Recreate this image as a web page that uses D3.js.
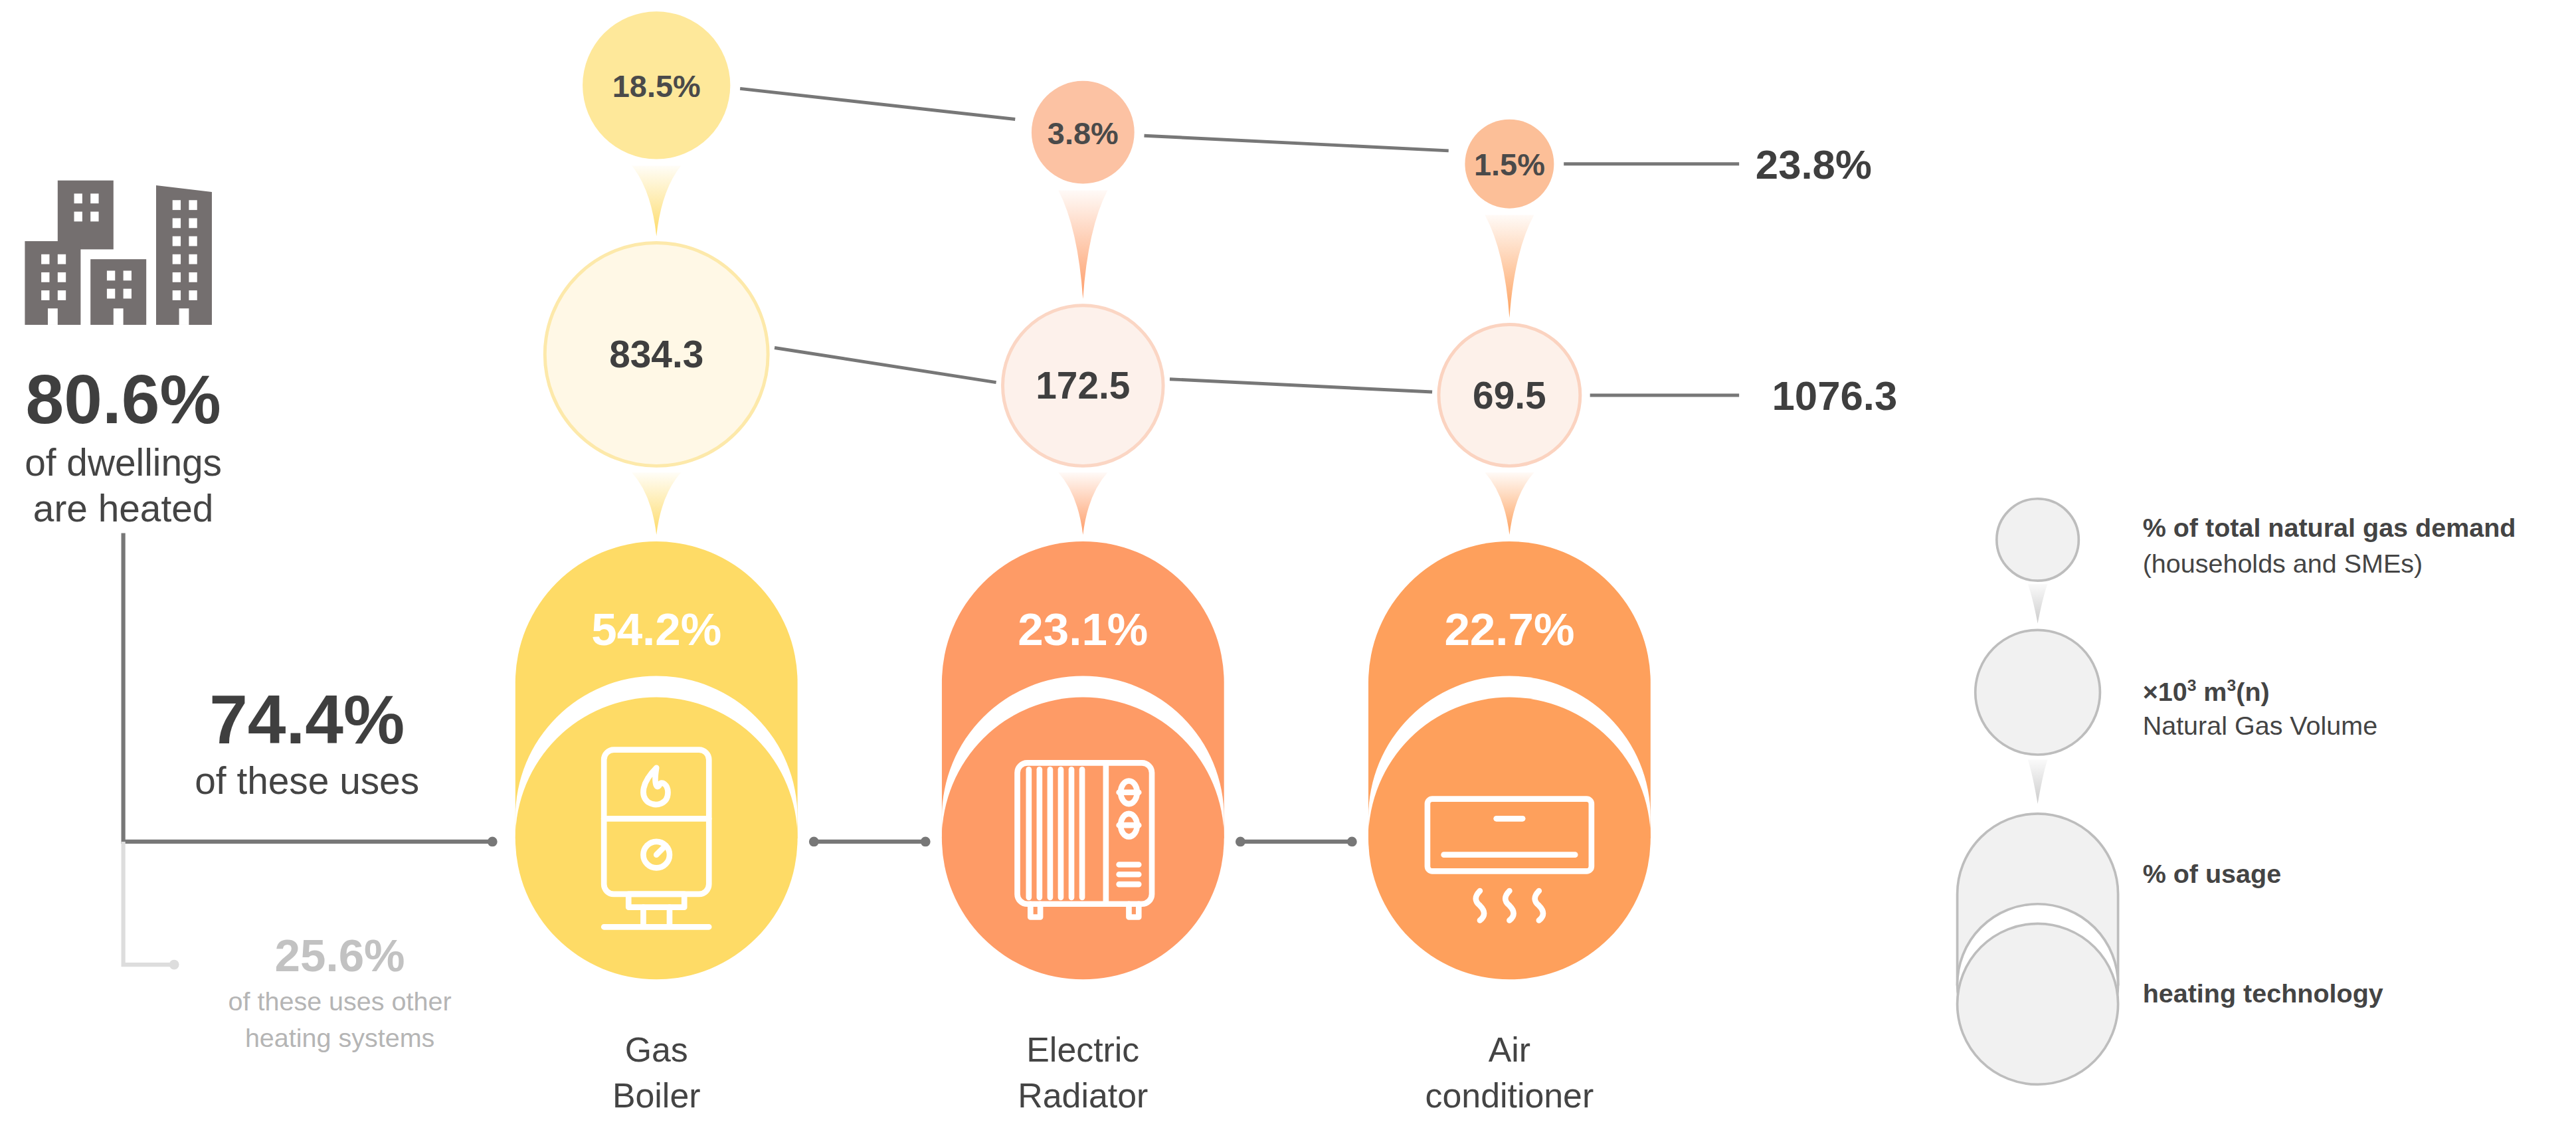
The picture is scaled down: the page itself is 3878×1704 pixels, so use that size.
<!DOCTYPE html>
<html>
<head>
<meta charset="utf-8">
<script src="https://cdn.jsdelivr.net/npm/d3@7"></script>
<style>
  body { margin: 0; background: #fff; }
  text { font-family: "Liberation Sans", Arial, sans-serif; }
</style>
</head>
<body>
<div id="chart"></div>
<script>
// chart values
const techNames = ["Gas Boiler", "Electric Radiator", "Air conditioner"];
const techLines = [["Gas", "Boiler"], ["Electric", "Radiator"], ["Air", "conditioner"]];
const usagePct = [54.2, 23.1, 22.7];
const gasVolume = [834.3, 172.5, 69.5];
const demandPct = [18.5, 3.8, 1.5];
const totalVolume = "1076.3";
const totalDemand = "23.8%";
const heatedPct = "80.6%";
const usesPct = "74.4%";
const otherPct = "25.6%";

const techColors = ["#fedb66", "#fe9b66", "#fea05c"];
const topColors = ["#fee89a", "#fcc2a3", "#fcbf98"];
const midFill = ["#fff8e6", "#fdf1eb", "#fdf1ea"];
const midStroke = ["#fde9aa", "#fbd6c4", "#fbd3c0"];

const viewW = 1570, viewH = 690;
const svg = d3.select("#chart").append("svg")
    .attr("viewBox", `0 0 ${viewW} ${viewH}`)
    .attr("width", 3878).attr("height", 1704);

const x = d3.scalePoint().domain(techNames).range([400, 920]);
const rTop = d3.scaleSqrt().domain([0, d3.max(demandPct)]).range([20, 45]);
const rMid = d3.scaleSqrt().domain([0, d3.max(gasVolume)]).range([33, 68]);
const topBottom = d3.scaleLinear().domain([0, 2]).range([97, 127]);
const midBottom = 284;
const techCy = 511, techR = 86, archTop = 330;

const data = techNames.map((n, i) => ({
    name: n, i, cx: x(n),
    rt: rTop(demandPct[i]), rm: rMid(gasVolume[i])
}));
data.forEach(d => {
    d.ty = topBottom(d.i) - d.rt;
    d.my = midBottom - d.rm;
});

// gradients for the tapered connectors
const defs = svg.append("defs");
data.forEach(d => {
    const g = defs.append("linearGradient").attr("id", "tg" + d.i)
        .attr("x1", 0).attr("y1", 0).attr("x2", 0).attr("y2", 1);
    g.append("stop").attr("offset", 0).attr("stop-color", techColors[d.i]).attr("stop-opacity", 0.05);
    g.append("stop").attr("offset", 1).attr("stop-color", techColors[d.i]).attr("stop-opacity", 1);
});
const lg = defs.append("linearGradient").attr("id", "tgLeg").attr("x1", 0).attr("y1", 0).attr("x2", 0).attr("y2", 1);
lg.append("stop").attr("offset", 0).attr("stop-color", "#ccc").attr("stop-opacity", 0.1);
lg.append("stop").attr("offset", 1).attr("stop-color", "#ccc").attr("stop-opacity", 1);

function taper(cx, y0, y1, w) {
    const h = y1 - y0;
    return `M${cx - w},${y0} Q${cx - 3},${y0 + h * 0.35} ${cx},${y1} Q${cx + 3},${y0 + h * 0.35} ${cx + w},${y0} Z`;
}

// connector lines between circles
const lineCol = "#777";
const topLine = d3.line();
for (let i = 0; i < data.length; i++) {
    const a = data[i], b = data[i + 1];
    if (b) {
        svg.append("path").attr("d", topLine([[a.cx + a.rt + 6, a.ty + 2], [b.cx - b.rt - 10, b.ty - 8]]))
            .attr("stroke", lineCol).attr("stroke-width", 2);
        svg.append("path").attr("d", topLine([[a.cx + a.rm + 4, a.my - 4], [b.cx - b.rm - 4, b.my - 2]]))
            .attr("stroke", lineCol).attr("stroke-width", 2);
    } else {
        svg.append("path").attr("d", topLine([[a.cx + a.rt + 6, a.ty], [1060, a.ty]]))
            .attr("stroke", lineCol).attr("stroke-width", 2);
        svg.append("path").attr("d", topLine([[a.cx + a.rm + 6, a.my], [1060, a.my]]))
            .attr("stroke", lineCol).attr("stroke-width", 2);
        svg.append("text").attr("x", 1070).attr("y", a.ty + 9).attr("font-size", 25)
            .attr("font-weight", "bold").attr("fill", "#3f3f3f").text(totalDemand);
        svg.append("text").attr("x", 1080).attr("y", a.my + 9).attr("font-size", 25)
            .attr("font-weight", "bold").attr("fill", "#3f3f3f").text(totalVolume);
    }
}

const col = svg.selectAll("g.col").data(data).join("g").attr("class", "col");

// tapers
col.append("path").attr("d", d => taper(d.cx, d.ty + d.rt + 4, d.my - d.rm - 4, 15))
    .attr("fill", d => `url(#tg${d.i})`);
col.append("path").attr("d", d => taper(d.cx, midBottom + 4, archTop - 4, 15))
    .attr("fill", d => `url(#tg${d.i})`);

// top circles
col.append("circle").attr("cx", d => d.cx).attr("cy", d => d.ty).attr("r", d => d.rt)
    .attr("fill", d => topColors[d.i]);
col.append("text").attr("x", d => d.cx).attr("y", d => d.ty + 7).attr("text-anchor", "middle")
    .attr("font-size", 19).attr("font-weight", "bold").attr("fill", "#4a4a4a")
    .text(d => demandPct[d.i].toFixed(1) + "%");

// middle circles
col.append("circle").attr("cx", d => d.cx).attr("cy", d => d.my).attr("r", d => d.rm)
    .attr("fill", d => midFill[d.i]).attr("stroke", d => midStroke[d.i]).attr("stroke-width", 2);
col.append("text").attr("x", d => d.cx).attr("y", d => d.my + 8).attr("text-anchor", "middle")
    .attr("font-size", 23).attr("font-weight", "bold").attr("fill", "#3f3f3f")
    .text(d => gasVolume[d.i].toFixed(1));

// technology shape: arch + white gap + circle
function arch(cx, top, r, bottom) {
    return `M${cx - r},${bottom} L${cx - r},${top + r} A${r},${r} 0 0 1 ${cx + r},${top + r} L${cx + r},${bottom} Z`;
}
col.append("path").attr("d", d => arch(d.cx, archTop, techR, techCy))
    .attr("fill", d => techColors[d.i]);
col.append("circle").attr("cx", d => d.cx).attr("cy", techCy - 13).attr("r", techR).attr("fill", "#fff");
col.append("circle").attr("cx", d => d.cx).attr("cy", techCy).attr("r", techR)
    .attr("fill", d => techColors[d.i]);
col.append("text").attr("x", d => d.cx).attr("y", 393).attr("text-anchor", "middle")
    .attr("font-size", 28).attr("font-weight", "bold").attr("fill", "#fff")
    .text(d => usagePct[d.i].toFixed(1) + "%");

// names
col.each(function (d) {
    techLines[d.i].forEach((t, k) => {
        d3.select(this).append("text").attr("x", d.cx).attr("y", 647 + k * 28)
            .attr("text-anchor", "middle").attr("font-size", 21).attr("fill", "#444").text(t);
    });
});

// connectors between technologies
for (let i = 0; i < data.length - 1; i++) {
    const x0 = data[i].cx + techR + 10, x1 = data[i + 1].cx - techR - 10;
    svg.append("line").attr("x1", x0).attr("x2", x1).attr("y1", techCy + 2).attr("y2", techCy + 2)
        .attr("stroke", lineCol).attr("stroke-width", 2.5);
    [x0, x1].forEach(v => svg.append("circle").attr("cx", v).attr("cy", techCy + 2).attr("r", 3).attr("fill", lineCol));
}

// icons (white line art)
const ic = { stroke: "#fff", "stroke-width": 3.5, fill: "none", "stroke-linecap": "round", "stroke-linejoin": "round" };
function st(sel) { Object.entries(ic).forEach(([k, v]) => sel.attr(k, v)); return sel; }

// gas boiler
const gb = svg.append("g").attr("transform", `translate(${data[0].cx},${techCy})`);
st(gb.append("rect").attr("x", -32).attr("y", -54).attr("width", 64).attr("height", 88).attr("rx", 6));
st(gb.append("line").attr("x1", -32).attr("x2", 32).attr("y1", -12).attr("y2", -12));
st(gb.append("path").attr("d", "M0,-43 C-9,-34 -10,-26 -5,-22 C0,-19 7,-21 7,-28 C7,-33 3,-35 2,-33 C1,-30 -2,-31 0,-43 Z"));
st(gb.append("circle").attr("cx", 0).attr("cy", 10).attr("r", 8));
st(gb.append("line").attr("x1", 0).attr("y1", 10).attr("x2", 4).attr("y2", 6));
st(gb.append("rect").attr("x", -17).attr("y", 34).attr("width", 34).attr("height", 8));
st(gb.append("path").attr("d", "M-8,42 L-8,54 M8,42 L8,54 M-32,54 L32,54"));

// radiator
const rd = svg.append("g").attr("transform", `translate(${data[1].cx},${techCy})`);
st(rd.append("rect").attr("x", -40).attr("y", -46).attr("width", 82).attr("height", 86).attr("rx", 6));
d3.range(6).forEach(k => st(rd.append("line").attr("x1", -33 + k * 6.5).attr("x2", -33 + k * 6.5).attr("y1", -42).attr("y2", 36)));
st(rd.append("line").attr("x1", 14).attr("x2", 14).attr("y1", -46).attr("y2", 40));
st(rd.append("ellipse").attr("cx", 28).attr("cy", -28).attr("rx", 5).attr("ry", 7));
st(rd.append("ellipse").attr("cx", 28).attr("cy", -8).attr("rx", 5).attr("ry", 7));
st(rd.append("path").attr("d", "M22,-28 L34,-28 M22,-8 L34,-8 M22,16 L34,16 M22,22 L34,22 M22,28 L34,28"));
st(rd.append("path").attr("d", "M-32,40 L-32,48 L-26,48 L-26,40 M28,40 L28,48 L34,48 L34,40"));

// air conditioner
const ac = svg.append("g").attr("transform", `translate(${data[2].cx},${techCy})`);
st(ac.append("rect").attr("x", -50).attr("y", -24).attr("width", 100).attr("height", 44).attr("rx", 3));
st(ac.append("line").attr("x1", -8).attr("x2", 8).attr("y1", -12).attr("y2", -12));
st(ac.append("line").attr("x1", -40).attr("x2", 40).attr("y1", 10).attr("y2", 10));
[-18, 0, 18].forEach(o => st(ac.append("path")
    .attr("d", `M${o},32 q-5,5 0,9 q5,5 0,9`)));

// left: buildings icon
const bcol = "#746f6f";
const bg = svg.append("g").attr("transform", "translate(15,110)");
bg.append("rect").attr("x", 20).attr("y", 0).attr("width", 34).attr("height", 42).attr("fill", bcol);
bg.append("rect").attr("x", 0).attr("y", 37).attr("width", 34).attr("height", 51).attr("fill", bcol);
bg.append("rect").attr("x", 40).attr("y", 48).attr("width", 34).attr("height", 40).attr("fill", bcol);
bg.append("path").attr("d", "M80,3 L114,7 L114,88 L80,88 Z").attr("fill", bcol);
const win = (gx, gy, cols, rows) => { for (let r = 0; r < rows; r++) for (let c = 0; c < cols; c++)
    bg.append("rect").attr("x", gx + c * 10).attr("y", gy + r * 11).attr("width", 5).attr("height", 6).attr("fill", "#fff"); };
win(30, 8, 2, 2); win(10, 45, 2, 3); win(50, 55, 2, 2); win(90, 12, 2, 6);
[[14, 78], [54, 78], [94, 78]].forEach(p => bg.append("rect").attr("x", p[0]).attr("y", p[1]).attr("width", 6).attr("height", 10).attr("fill", "#fff"));

svg.append("text").attr("x", 75).attr("y", 258).attr("text-anchor", "middle").attr("font-size", 42)
    .attr("font-weight", "bold").attr("fill", "#3f3f3f").text(heatedPct);
svg.append("text").attr("x", 75).attr("y", 290).attr("text-anchor", "middle").attr("font-size", 23).attr("fill", "#444").text("of dwellings");
svg.append("text").attr("x", 75).attr("y", 318).attr("text-anchor", "middle").attr("font-size", 23).attr("fill", "#444").text("are heated");

svg.append("path").attr("d", "M75,325 L75,513 L300,513").attr("stroke", lineCol).attr("stroke-width", 2.5).attr("fill", "none");
svg.append("circle").attr("cx", 300).attr("cy", 513).attr("r", 3).attr("fill", lineCol);
svg.append("path").attr("d", "M75,513 L75,588 L106,588").attr("stroke", "#ddd").attr("stroke-width", 2.5).attr("fill", "none");
svg.append("circle").attr("cx", 106).attr("cy", 588).attr("r", 3).attr("fill", "#ddd");

svg.append("text").attr("x", 187).attr("y", 453).attr("text-anchor", "middle").attr("font-size", 42)
    .attr("font-weight", "bold").attr("fill", "#3f3f3f").text(usesPct);
svg.append("text").attr("x", 187).attr("y", 484).attr("text-anchor", "middle").attr("font-size", 23).attr("fill", "#444").text("of these uses");
svg.append("text").attr("x", 207).attr("y", 592).attr("text-anchor", "middle").attr("font-size", 28)
    .attr("font-weight", "bold").attr("fill", "#c2c2c2").text(otherPct);
svg.append("text").attr("x", 207).attr("y", 616).attr("text-anchor", "middle").attr("font-size", 16).attr("fill", "#b5b5b5").text("of these uses other");
svg.append("text").attr("x", 207).attr("y", 638).attr("text-anchor", "middle").attr("font-size", 16).attr("fill", "#b5b5b5").text("heating systems");

// legend
const lgG = svg.append("g");
const legFill = "#f1f1f1", legStroke = "#bdbdbd", lx = 1242;
lgG.append("path").attr("d", taper(lx, 356, 380, 6)).attr("fill", "url(#tgLeg)");
lgG.append("path").attr("d", taper(lx, 463, 490, 6)).attr("fill", "url(#tgLeg)");
lgG.append("circle").attr("cx", lx).attr("cy", 329).attr("r", 25).attr("fill", legFill).attr("stroke", legStroke).attr("stroke-width", 1.5);
lgG.append("circle").attr("cx", lx).attr("cy", 422).attr("r", 38).attr("fill", legFill).attr("stroke", legStroke).attr("stroke-width", 1.5);
lgG.append("path").attr("d", arch(lx, 496, 49, 600)).attr("fill", legFill).attr("stroke", legStroke).attr("stroke-width", 1.5);
lgG.append("circle").attr("cx", lx).attr("cy", 600).attr("r", 49).attr("fill", "#fff").attr("stroke", legStroke).attr("stroke-width", 1.5);
lgG.append("circle").attr("cx", lx).attr("cy", 612).attr("r", 49).attr("fill", legFill).attr("stroke", legStroke).attr("stroke-width", 1.5);

const lt = (y, t, b) => lgG.append("text").attr("x", 1306).attr("y", y).attr("font-size", 16)
    .attr("font-weight", b ? "bold" : "normal").attr("fill", "#444").text(t);
lt(327, "% of total natural gas demand", true);
lt(349, "(households and SMEs)", false);
const sup = lgG.append("text").attr("x", 1306).attr("y", 427).attr("font-size", 16).attr("font-weight", "bold").attr("fill", "#444");
sup.append("tspan").text("×10");
sup.append("tspan").attr("dy", -6).attr("font-size", 10).text("3");
sup.append("tspan").attr("dy", 6).text(" m");
sup.append("tspan").attr("dy", -6).attr("font-size", 10).text("3");
sup.append("tspan").attr("dy", 6).text("(n)");
lt(448, "Natural Gas Volume", false);
lt(538, "% of usage", true);
lt(611, "heating technology", true);
</script>
</body>
</html>
